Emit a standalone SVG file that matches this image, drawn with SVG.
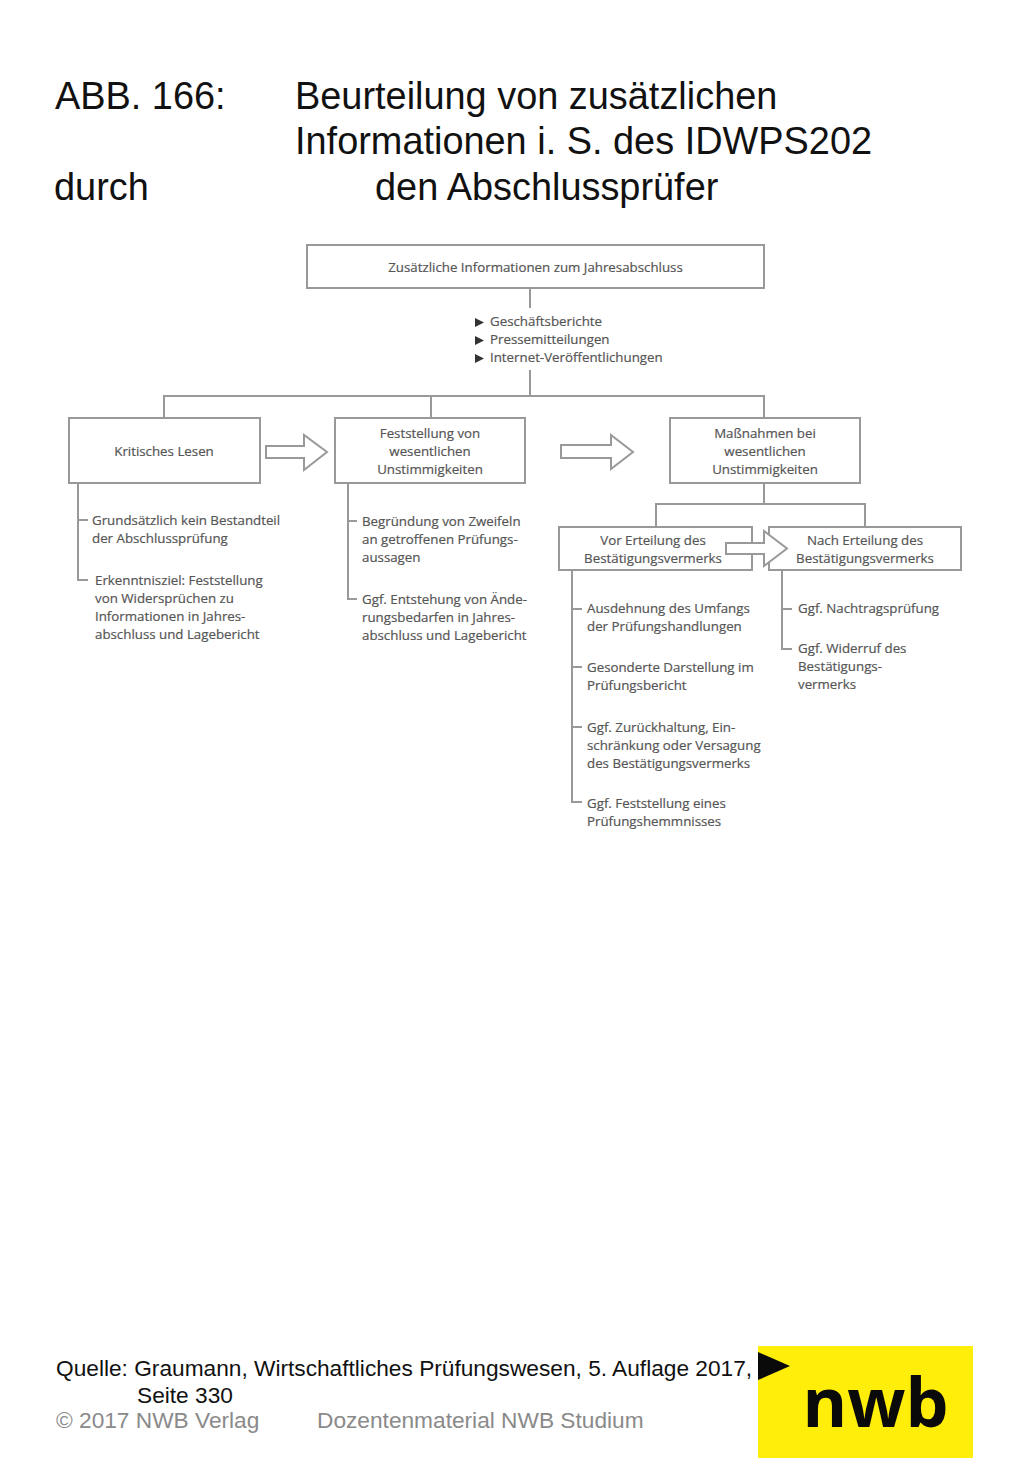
<svg xmlns="http://www.w3.org/2000/svg" width="1024" height="1479" viewBox="0 0 1024 1479">
<style>
.h{font-family:"Liberation Sans",Arial,sans-serif;font-size:37.9px;fill:#111}
.q{font-family:"Liberation Sans",Arial,sans-serif;font-size:22.7px;fill:#111}
.c{font-family:"Liberation Sans",Arial,sans-serif;font-size:22.7px;fill:#8a8a8a}
.t{font-family:"Open Sans",sans-serif;font-size:13.3px;fill:#555;stroke:#555;stroke-width:.2}
.m{text-anchor:middle}
.b{fill:#fff;stroke:#999;stroke-width:2}
.l{fill:none;stroke:#999;stroke-width:2}
.a{fill:#fff;stroke:#999;stroke-width:2;stroke-linejoin:miter}
</style>
<rect width="1024" height="1479" fill="#fff"/>
<g id="title">
<text class="h" x="55" y="109">ABB. 166:</text>
<text class="h" x="295" y="109">Beurteilung von zusätzlichen</text>
<text class="h" x="295" y="154">Informationen i. S. des IDWPS202</text>
<text class="h" x="54" y="200">durch</text>
<text class="h" x="375" y="200">den Abschlussprüfer</text>
</g>
<g id="connectors">
<path class="l" d="M530 288V308M530 370V396M164 418V396H764V418M431 396V418M764 483V504M656 527V504H865V527"/>
<path class="l" d="M78 483V580H88M78 520H88"/>
<path class="l" d="M348 483V599H357M348 521H357"/>
<path class="l" d="M572 570V802H582M572 609H582M572 667H582M572 727H582"/>
<path class="l" d="M782 570V649H792M782 609H792"/>
</g>
<g id="node-top">
<rect class="b" x="307" y="245" width="457" height="43"/>
<text class="t m" x="535.500" y="272">Zusätzliche Informationen zum Jahresabschluss</text>
</g>
<g id="node-sources">
<path d="M475 318L484 322.500L475 327ZM475 336L484 340.500L475 345ZM475 354L484 358.500L475 363Z" fill="#333"/>
<text class="t" x="490" y="326">Geschäftsberichte</text>
<text class="t" x="490" y="344">Pressemitteilungen</text>
<text class="t" x="490" y="362">Internet-Veröffentlichungen</text>
</g>
<g id="node-lesen">
<rect class="b" x="69" y="418" width="191" height="65"/>
<text class="t m" x="164" y="456">Kritisches Lesen</text>
</g>
<g id="node-lesen-list">
<text class="t" x="92" y="525">Grundsätzlich kein Bestandteil</text>
<text class="t" x="92" y="543">der Abschlussprüfung</text>
<text class="t" x="95" y="585">Erkenntnisziel: Feststellung</text>
<text class="t" x="95" y="603">von Widersprüchen zu</text>
<text class="t" x="95" y="621">Informationen in Jahres-</text>
<text class="t" x="95" y="639">abschluss und Lagebericht</text>
</g>
<g id="node-feststellung">
<rect class="b" x="335" y="418" width="190" height="65"/>
<text class="t m" x="430" y="438">Feststellung von</text>
<text class="t m" x="430" y="456">wesentlichen</text>
<text class="t m" x="430" y="474">Unstimmigkeiten</text>
</g>
<g id="node-feststellung-list">
<text class="t" x="362" y="526">Begründung von Zweifeln</text>
<text class="t" x="362" y="544">an getroffenen Prüfungs-</text>
<text class="t" x="362" y="562">aussagen</text>
<text class="t" x="362" y="604">Ggf. Entstehung von Ände-</text>
<text class="t" x="362" y="622">rungsbedarfen in Jahres-</text>
<text class="t" x="362" y="640">abschluss und Lagebericht</text>
</g>
<g id="node-massnahmen">
<rect class="b" x="670" y="418" width="190" height="65"/>
<text class="t m" x="765" y="438">Maßnahmen bei</text>
<text class="t m" x="765" y="456">wesentlichen</text>
<text class="t m" x="765" y="474">Unstimmigkeiten</text>
</g>
<g id="node-vor">
<rect class="b" x="559" y="527" width="193" height="43"/>
<text class="t m" x="653" y="545">Vor Erteilung des</text>
<text class="t m" x="653" y="563">Bestätigungsvermerks</text>
</g>
<g id="node-nach">
<rect class="b" x="769" y="527" width="192" height="43"/>
<text class="t m" x="865" y="545">Nach Erteilung des</text>
<text class="t m" x="865" y="563">Bestätigungsvermerks</text>
</g>
<g id="node-vor-list">
<text class="t" x="587" y="613">Ausdehnung des Umfangs</text>
<text class="t" x="587" y="631">der Prüfungshandlungen</text>
<text class="t" x="587" y="672">Gesonderte Darstellung im</text>
<text class="t" x="587" y="690">Prüfungsbericht</text>
<text class="t" x="587" y="732">Ggf. Zurückhaltung, Ein-</text>
<text class="t" x="587" y="750">schränkung oder Versagung</text>
<text class="t" x="587" y="768">des Bestätigungsvermerks</text>
<text class="t" x="587" y="808">Ggf. Feststellung eines</text>
<text class="t" x="587" y="826">Prüfungshemmnisses</text>
</g>
<g id="node-nach-list">
<text class="t" x="798" y="613">Ggf. Nachtragsprüfung</text>
<text class="t" x="798" y="653">Ggf. Widerruf des</text>
<text class="t" x="798" y="671">Bestätigungs-</text>
<text class="t" x="798" y="689">vermerks</text>
</g>
<g id="arrows">
<path class="a" d="M266 446H304V435L327 452L304 470V458H266Z"/>
<path class="a" d="M561 445H611V435L633 452L611 469V458H561Z"/>
<path class="a" d="M726 543H764V531L787 548.500L764 566V554H726Z"/>
</g>
<g id="footer">
<text class="q" x="56" y="1376">Quelle: Graumann, Wirtschaftliches Prüfungswesen, 5. Auflage 2017,</text>
<text class="q" x="137" y="1403">Seite 330</text>
<text class="c" x="56" y="1427.500">© 2017 NWB Verlag</text>
<text class="c" x="317" y="1427.500">Dozentenmaterial NWB Studium</text>
</g>
<g id="logo">
<rect x="758" y="1346" width="215" height="112" fill="#ffed0a"/>
<path d="M758 1352L790 1366L758 1380Z" fill="#0a0a0a"/>
<text x="875.500" y="1427" text-anchor="middle" font-family="'Open Sans',sans-serif" font-weight="700" font-size="68px" fill="#0a0a0a">nwb</text>
</g>
</svg>
